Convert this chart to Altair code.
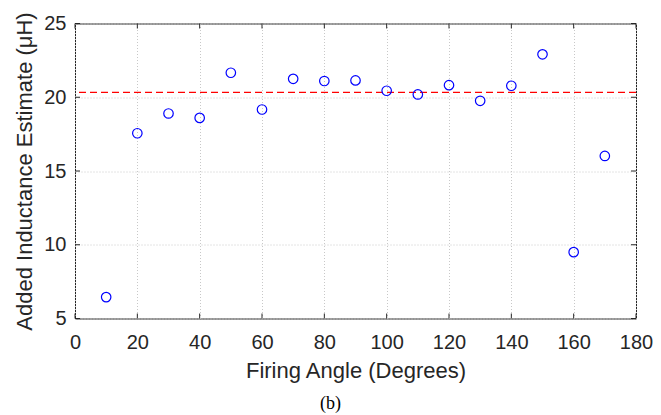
import altair as alt
import pandas as pd

# ---- data ----
angles = [10, 20, 30, 40, 50, 60, 70, 80, 90, 100, 110, 120, 130, 140, 150, 160, 170]
inductance = [6.45, 17.56, 18.90, 18.60, 21.66, 19.17, 21.25, 21.10, 21.14,
              20.44, 20.19, 20.82, 19.76, 20.78, 22.91, 9.50, 16.02]
mean_line = [20.33]
x_ticks = [0, 20, 40, 60, 80, 100, 120, 140, 160, 180]
y_ticks = [5, 10, 15, 20, 25]
caption = ["(b)"]

W, H = 561, 295
AX = "#262626"
FONT = "Liberation Sans"

pts = pd.DataFrame({"angle": angles, "L": inductance})
mean_df = pd.DataFrame({"L": mean_line})
xt = pd.DataFrame({"t": x_ticks})
yt = pd.DataFrame({"t": y_ticks})
cap = pd.DataFrame({"txt": caption})

xscale = alt.Scale(domain=[0, 180], nice=False, zero=False)
yscale = alt.Scale(domain=[5, 25], nice=False, zero=False)

xaxis = alt.Axis(values=x_ticks, title="Firing Angle (Degrees)", grid=True,
                 gridDash=[1, 2], gridColor="#c8c8c8", gridWidth=1,
                 ticks=False, tickSize=0, domain=False, labelFlush=False,
                 labelFont=FONT, labelFontSize=20, labelColor=AX, labelPadding=14,
                 titleFont=FONT, titleFontSize=22, titleColor=AX,
                 titleFontWeight="normal", titlePadding=8)
yaxis = alt.Axis(values=y_ticks, title="Added Inductance Estimate (μH)", grid=True,
                 gridDash=[1, 2], gridColor="#c8c8c8", gridWidth=1,
                 ticks=False, tickSize=0, domain=False, labelFlush=False,
                 labelFont=FONT, labelFontSize=20, labelColor=AX, labelPadding=9,
                 titleFont=FONT, titleFontSize=22, titleColor=AX,
                 titleFontWeight="normal", titlePadding=7)

points = alt.Chart(pts).mark_point(
    shape="circle", filled=False, color="#0000ff", size=90, strokeWidth=1.2, opacity=1
).encode(
    x=alt.X("angle:Q", scale=xscale, axis=xaxis),
    y=alt.Y("L:Q", scale=yscale, axis=yaxis),
)

mean_rule = alt.Chart(mean_df).mark_rule(
    color="#ff0000", strokeDash=[7, 4], strokeWidth=1.3
).encode(y=alt.Y("L:Q", scale=yscale))

tick_style = dict(color=AX, strokeWidth=1)
bottom_ticks = alt.Chart(xt).mark_rule(**tick_style).encode(
    x=alt.X("t:Q", scale=xscale), y=alt.value(H), y2=alt.value(H - 5))
top_ticks = alt.Chart(xt).mark_rule(**tick_style).encode(
    x=alt.X("t:Q", scale=xscale), y=alt.value(0), y2=alt.value(5))
left_ticks = alt.Chart(yt).mark_rule(**tick_style).encode(
    y=alt.Y("t:Q", scale=yscale), x=alt.value(0), x2=alt.value(5))
right_ticks = alt.Chart(yt).mark_rule(**tick_style).encode(
    y=alt.Y("t:Q", scale=yscale), x=alt.value(W), x2=alt.value(W - 5))

caption_text = alt.Chart(cap).mark_text(
    font="Liberation Serif", fontSize=18, color="#000000", baseline="alphabetic", align="center"
).encode(text="txt:N", x=alt.value(255.5), y=alt.value(385))

chart = alt.layer(
    mean_rule, bottom_ticks, top_ticks, left_ticks, right_ticks, points, caption_text
).properties(
    width=W, height=H,
    autosize=alt.AutoSizeParams(type="none"),
    padding={"left": 67, "top": 15.5, "right": 17, "bottom": 97},
    background="#ffffff",
).configure_view(stroke=AX, strokeWidth=1)

chart.save("out.html", embed_options={"renderer": "svg", "actions": False})
